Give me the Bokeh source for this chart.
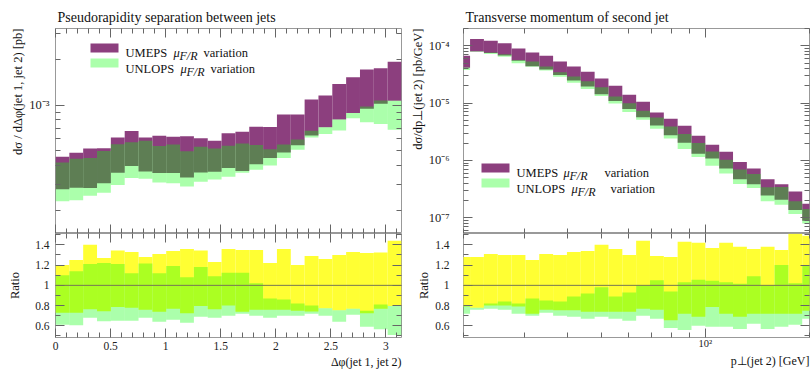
import numpy as np
from bokeh.plotting import figure
from bokeh.layouts import row, column
from bokeh.models import (FixedTicker, LinearAxis, LogAxis, Range1d, Title, Label,
                          BoxAnnotation, CustomJSTickFormatter, Span, ColumnDataSource)
from bokeh.embed import file_html
from bokeh.resources import INLINE

# ---------------- left panel: delta phi ----------------
dphi_edges = list(np.linspace(0.0, np.pi, 26))
dphi_ref = [3.79e-4, 3.88e-4, 3.69e-4, 4.08e-4, 4.55e-4, 5.07e-4, 4.78e-4, 4.80e-4, 4.61e-4,
            4.58e-4, 4.50e-4, 4.73e-4, 4.79e-4, 4.95e-4, 5.34e-4, 5.87e-4, 6.39e-4, 7.24e-4,
            8.48e-4, 9.22e-4, 1.064e-3, 1.154e-3, 1.308e-3, 1.328e-3, 1.35e-3]
dphi_umeps_up = [1.20, 1.25, 1.40, 1.27, 1.345, 1.33, 1.28, 1.31, 1.34, 1.36, 1.345, 1.23, 1.36,
                 1.35, 1.35, 1.22, 1.36, 1.20, 1.29, 1.26, 1.30, 1.33, 1.32, 1.325, 1.44]
dphi_umeps_dn = [0.73, 0.73, 0.765, 0.745, 0.785, 0.78, 0.76, 0.74, 0.77, 0.725, 0.795, 0.765, 0.80,
                 0.74, 0.76, 0.76, 0.76, 0.75, 0.742, 0.775, 0.755, 0.77, 0.724, 0.77, 0.795]
dphi_unlops_up = [1.10, 1.14, 1.21, 1.22, 1.21, 1.12, 1.215, 1.12, 1.19, 1.08, 1.18, 1.09, 1.125,
                  1.125, 1.02, 0.87, 0.86, 0.82, 0.80, 0.775, 0.755, 0.77, 0.75, 0.81, 0.795]
dphi_unlops_dn = [0.61, 0.605, 0.68, 0.645, 0.65, 0.65, 0.68, 0.64, 0.66, 0.63, 0.69, 0.68, 0.70,
                  0.72, 0.70, 0.68, 0.70, 0.70, 0.72, 0.70, 0.64, 0.71, 0.59, 0.566, 0.51]

# ---------------- right panel: pT of second jet ----------------
pt_edges = [10 ** (1.28 + 0.04 * i) for i in range(27)]
pt_ref = [5.24e-5, 1.02e-4, 9.3e-5, 8.47e-5, 6.91e-5, 6.12e-5, 5.09e-5, 4.1e-5, 3.27e-5, 2.62e-5,
          1.92e-5, 1.47e-5, 1.07e-5, 7.31e-6, 5.32e-6, 4.17e-6, 2.81e-6, 1.9e-6, 1.37e-6, 1.0e-6,
          6.82e-7, 5.3e-7, 3.4e-7, 2.85e-7, 1.9e-7, 1.18e-7]
pt_umeps_up = [1.28, 1.28, 1.31, 1.30, 1.30, 1.25, 1.31, 1.30, 1.33, 1.34, 1.40, 1.36, 1.30, 1.44,
               1.29, 1.28, 1.43, 1.42, 1.37, 1.42, 1.38, 1.36, 1.38, 1.35, 1.51, 1.49]
pt_umeps_dn = [0.79, 0.78, 0.80, 0.80, 0.79, 0.72, 0.76, 0.755, 0.755, 0.74, 0.74, 0.74, 0.74, 0.77,
               0.76, 0.655, 0.72, 0.69, 0.785, 0.72, 0.69, 0.72, 0.72, 0.72, 0.72, 0.75]
pt_unlops_up = [0.80, 0.78, 0.82, 0.84, 0.82, 0.87, 0.85, 0.84, 0.89, 0.92, 0.98, 0.89, 0.93, 1.0,
                1.05, 0.94, 1.03, 1.055, 1.045, 1.03, 1.015, 1.09, 1.0, 1.20, 1.02, 1.20]
pt_unlops_dn = [0.72, 0.76, 0.77, 0.76, 0.72, 0.70, 0.73, 0.70, 0.69, 0.67, 0.69, 0.67, 0.65, 0.70,
                0.67, 0.58, 0.56, 0.60, 0.59, 0.59, 0.57, 0.62, 0.57, 0.59, 0.61, 0.67]

FONT = "Liberation Serif"
PURPLE = "#8c3f7e"
YELLOW = "#ffff33"
GREEN = "#00ff00"
GALPHA = 0.33
TICK = "#666666"
FRAME = "#999999"
TXT = "#111111"

log_fmt = CustomJSTickFormatter(code="""
const e = Math.round(Math.log10(tick));
const m = {'-':'\u207b','0':'\u2070','1':'\u00b9','2':'\u00b2','3':'\u00b3','4':'\u2074',
           '5':'\u2075','6':'\u2076','7':'\u2077','8':'\u2078','9':'\u2079'};
return '10' + String(e).split('').map(c => m[c]).join('');
""")
num_fmt = CustomJSTickFormatter(code="return String(Math.round(tick*10)/10);")


def style_axis(ax, major, minor, labels=False, standoff=6, fmt=None, size="11px"):
    ax.ticker = FixedTicker(ticks=major, minor_ticks=minor)
    ax.major_tick_in = 9
    ax.major_tick_out = 0
    ax.minor_tick_in = 5
    ax.minor_tick_out = 0
    ax.major_tick_line_color = TICK
    ax.minor_tick_line_color = TICK
    ax.axis_line_color = None
    if labels:
        ax.major_label_standoff = standoff
        ax.major_label_text_font = FONT
        ax.major_label_text_font_size = size
        ax.major_label_text_color = "#222222"
        if fmt is not None:
            ax.formatter = fmt
    else:
        ax.major_label_text_font_size = "1px"
        ax.major_label_text_color = None
        ax.major_label_standoff = 0


def base_fig(xr, yr, xlog, ylog, fh, bl, br, bt, bb):
    p = figure(frame_width=346, frame_height=fh, x_range=xr, y_range=yr,
               x_axis_type="log" if xlog else "linear",
               y_axis_type="log" if ylog else "linear",
               toolbar_location=None, output_backend="svg",
               min_border_left=bl, min_border_right=br, min_border_top=bt, min_border_bottom=bb)
    p.grid.visible = False
    p.outline_line_color = FRAME
    p.outline_line_width = 1
    p.background_fill_color = "white"
    p.border_fill_color = "white"
    return p


def add_text(p, x, y, text, size="12px", style="normal", align="left"):
    p.add_layout(Label(x=x, y=y, x_units="screen", y_units="screen", text=text,
                       text_font=FONT, text_font_size=size, text_font_style=style,
                       text_baseline="alphabetic", text_align=align, text_color=TXT))


def add_legend(p, rows):
    for (sx, sy, name, nx, mx, vx, ty, color, alpha) in rows:
        p.add_layout(BoxAnnotation(left=sx, right=sx + 28, bottom=sy, top=sy + 9,
                                   left_units="screen", right_units="screen",
                                   bottom_units="screen", top_units="screen",
                                   fill_color=color, fill_alpha=alpha, line_color=None))
        add_text(p, nx, ty, name, size="12.5px")
        add_text(p, mx, ty, "\u03bc", size="12.5px", style="italic")
        add_text(p, mx + 6, ty - 3, "F/R", size="12px", style="italic")
        add_text(p, vx, ty, "variation", size="12.5px")


def panel(edges, ref, uu, ud, nu, nd, xr, yr, xlog, bl, br, title, ylab, xlab,
          xmaj, xmin, ymaj, ymin, x_fmt, y_std, ylab_std, ratio_std, xlab_std, xtick_std,
          xtick_size, legend_rows):
    src = ColumnDataSource(dict(
        left=edges[:-1], right=edges[1:],
        u_lo=[r * v for r, v in zip(ref, ud)], u_hi=[r * v for r, v in zip(ref, uu)],
        n_lo=[r * v for r, v in zip(ref, nd)], n_hi=[r * v for r, v in zip(ref, nu)],
        ru_lo=ud, ru_hi=uu, rn_lo=nd, rn_hi=nu))

    # main plot
    m = base_fig(xr, yr, xlog, True, 205, bl, br, 28, 0)
    m.quad(left="left", right="right", bottom="u_lo", top="u_hi", source=src,
           fill_color=PURPLE, fill_alpha=1.0, line_color=None)
    m.quad(left="left", right="right", bottom="n_lo", top="n_hi", source=src,
           fill_color=GREEN, fill_alpha=GALPHA, line_color=None)
    style_axis(m.xaxis[0], xmaj, xmin)
    top_ax = LogAxis() if xlog else LinearAxis()
    m.add_layout(top_ax, "above")
    style_axis(top_ax, xmaj, xmin)
    style_axis(m.yaxis[0], ymaj, ymin, labels=True, standoff=y_std, fmt=log_fmt, size="12.5px")
    right_ax = LogAxis()
    m.add_layout(right_ax, "right")
    style_axis(right_ax, ymaj, ymin)
    m.title.text = title
    m.title.align = "left"
    m.title.text_font = FONT
    m.title.text_font_size = "14px"
    m.title.text_font_style = "normal"
    m.title.text_color = TXT
    m.title.standoff = 8
    m.title.offset = 2
    m.add_layout(Title(text=ylab, align="right", text_font=FONT, text_font_size="12.5px",
                       text_font_style="normal", text_color=TXT, standoff=ylab_std), "left")
    add_legend(m, legend_rows)

    # ratio plot
    r = base_fig(xr, Range1d(0.485, 1.512), xlog, False, 104, bl, br, 0, 32)
    r.quad(left="left", right="right", bottom="ru_lo", top="ru_hi", source=src,
           fill_color=YELLOW, fill_alpha=1.0, line_color=None)
    r.quad(left="left", right="right", bottom="rn_lo", top="rn_hi", source=src,
           fill_color=GREEN, fill_alpha=GALPHA, line_color=None)
    r.add_layout(Span(location=1.0, dimension="width", line_color="#777755", line_width=1))
    bx = r.xaxis[0]
    style_axis(bx, xmaj, xmin, labels=True, standoff=xtick_std, fmt=x_fmt, size=xtick_size)
    top_r = LogAxis() if xlog else LinearAxis()
    r.add_layout(top_r, "above")
    style_axis(top_r, xmaj, xmin)
    style_axis(r.yaxis[0], [0.6, 0.8, 1.0, 1.2, 1.4], [0.5, 0.7, 0.9, 1.1, 1.3, 1.5],
               labels=True, standoff=y_std, fmt=num_fmt, size="11.5px")
    r.yaxis[0].axis_label = "Ratio"
    r.yaxis[0].axis_label_text_font = FONT
    r.yaxis[0].axis_label_text_font_size = "12.5px"
    r.yaxis[0].axis_label_text_font_style = "normal"
    r.yaxis[0].axis_label_text_color = TXT
    r.yaxis[0].axis_label_standoff = ratio_std
    rr = LinearAxis()
    r.add_layout(rr, "right")
    style_axis(rr, [0.6, 0.8, 1.0, 1.2, 1.4], [0.5, 0.7, 0.9, 1.1, 1.3, 1.5])
    try:
        bx.axis_label_align = "right"
        bx.axis_label = xlab
        bx.axis_label_text_font = FONT
        bx.axis_label_text_font_size = "12.5px"
        bx.axis_label_text_font_style = "normal"
        bx.axis_label_text_color = TXT
        bx.axis_label_standoff = xlab_std
    except Exception:
        r.add_layout(Title(text=xlab, align="right", text_font=FONT, text_font_size="12px",
                           text_font_style="normal", text_color=TXT, standoff=0, offset=0),
                     "below")
    return column(m, r)


left = panel(dphi_edges, dphi_ref, dphi_umeps_up, dphi_umeps_dn, dphi_unlops_up, dphi_unlops_dn,
             Range1d(0.0, np.pi), Range1d(1.41e-4, 3.23e-3), False, 55, 4,
             "Pseudorapidity separation between jets", "d\u03c3 / d\u0394\u03c6(jet 1, jet 2) [pb]",
             "\u0394\u03c6(jet 1, jet 2)",
             [0, 0.5, 1, 1.5, 2, 2.5, 3],
             [round(0.1 * i, 1) for i in range(32) if i % 5 != 0],
             [1e-3], [2e-4, 3e-4, 4e-4, 5e-4, 6e-4, 7e-4, 8e-4, 9e-4, 2e-3, 3e-3],
             num_fmt, 6, 4, 10, 3, 4, "11.5px",
             [(35, 181, "UMEPS", 70, 118, 148, 180.5, PURPLE, 1.0),
              (35, 166, "UNLOPS", 70, 125, 155, 165, GREEN, GALPHA)])

right = panel(pt_edges, pt_ref, pt_umeps_up, pt_umeps_dn, pt_unlops_up, pt_unlops_dn,
              Range1d(20, 200), Range1d(5.3e-8, 2.0e-4), True, 58, 2,
              "Transverse momentum of second jet", "d\u03c3/dp\u22a5(jet 2) [pb/GeV]",
              "p\u22a5(jet 2) [GeV]",
              [100], [20, 30, 40, 50, 60, 70, 80, 90, 200],
              [1e-7, 1e-6, 1e-5, 1e-4],
              [k * 10.0 ** e for e in (-8, -7, -6, -5, -4) for k in range(2, 10)],
              log_fmt, 14, 1, 1, 0, 0, "10.5px",
              [(18, 61, "UMEPS", 53, 100, 141, 61, PURPLE, 1.0),
               (18, 46, "UNLOPS", 53, 108, 147, 45, GREEN, GALPHA)])

layout = row(left, right)
open("out.html", "w").write(file_html(layout, INLINE))
